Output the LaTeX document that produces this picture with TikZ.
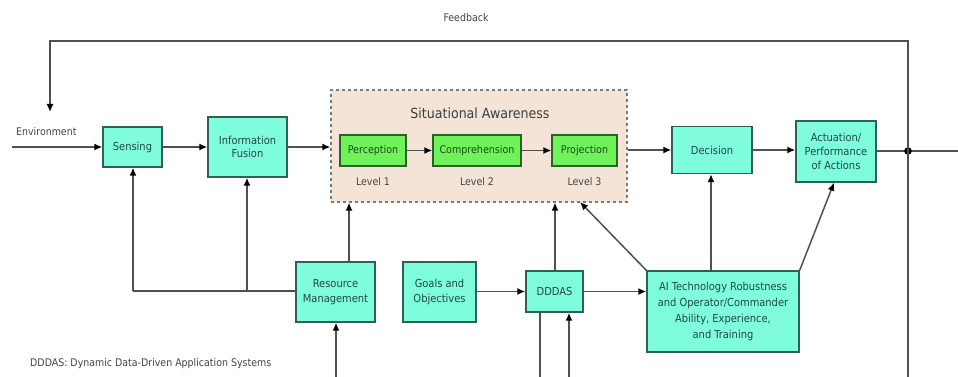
\documentclass[tikz,border=0pt]{standalone}
\usepackage{fontspec}
\setmainfont{DejaVu Sans Condensed}
\usetikzlibrary{arrows.meta,positioning}
\definecolor{cyanfill}{HTML}{7EFCDC}
\definecolor{cyanedge}{HTML}{2F5F55}
\definecolor{cyantext}{HTML}{1F4A40}
\definecolor{greenfill}{HTML}{6FF25A}
\definecolor{greenedge}{HTML}{2E5E2A}
\definecolor{greentext}{HTML}{1E4A1A}
\definecolor{safill}{HTML}{F4E4D8}
\definecolor{saedge}{HTML}{7A7A7A}
\definecolor{linecol}{HTML}{505050}
\definecolor{labcol}{HTML}{444444}
\tikzset{
  cbox/.style={draw=cyanedge, line width=1.4pt, fill=cyanfill, text=cyantext,
    font=\fontsize{11}{13}\selectfont, align=center, inner sep=0pt},
  gbox/.style={draw=greenedge, line width=1.4pt, fill=greenfill, text=greentext,
    font=\fontsize{10.6}{13}\selectfont, align=center, inner sep=0pt,
    minimum height=31pt},
  lab/.style={text=labcol, font=\fontsize{10.5}{12}\selectfont, inner sep=0pt},
  conn/.style={draw=linecol, line width=1.5pt},
  arr/.style={conn, -{Latex[length=8pt,width=7pt,color=black]}},
}
\begin{document}
\begin{tikzpicture}[x=1pt,y=-1pt]
\useasboundingbox (0,0) rectangle (958,377);
% situational awareness container
\node[draw=saedge, dashed, line width=1.2pt, fill=safill, minimum width=296pt, minimum height=112pt, inner sep=0pt] (sa) at (479,146) {};
\node[text=labcol!90!black, font=\fontsize{14}{16}\selectfont, inner sep=0pt] (satitle) at (480,113) {Situational Awareness};
% boxes
\node[cbox, minimum width=59pt, minimum height=40pt] (sensing) at (132.5,147) {Sensing};
\node[cbox, minimum width=79pt, minimum height=60pt] (fusion) at (247.5,147) {Information\\Fusion};
\node[gbox, minimum width=66pt] (perc) at (373,150.5) {Perception};
\node[gbox, minimum width=88pt] (comp) at (477,150.5) {Comprehension};
\node[gbox, minimum width=65pt] (proj) at (584.5,150.5) {Projection};
\node[lab] (l1) at (373,182) {Level 1};
\node[lab] (l2) at (477,182) {Level 2};
\node[lab] (l3) at (584.5,182) {Level 3};
\node[cbox, minimum width=80pt, minimum height=47pt] (decision) at (712,150) {Decision};
\node[cbox, minimum width=80pt, minimum height=61pt, font=\fontsize{11}{14}\selectfont] (act) at (836,151.5) {Actuation/\\Performance\\of Actions};
\node[cbox, minimum width=79pt, minimum height=60pt, font=\fontsize{11}{14.5}\selectfont] (res) at (335.5,292) {Resource\\Management};
\node[cbox, minimum width=73pt, minimum height=60pt, font=\fontsize{11}{14.5}\selectfont] (goals) at (439.5,292) {Goals and\\Objectives};
\node[cbox, minimum width=57pt, minimum height=41pt] (dddas) at (554.5,291.5) {DDDAS};
\node[cbox, minimum width=152pt, minimum height=81pt, font=\fontsize{11}{16}\selectfont] (ai) at (723,311.5) {AI Technology Robustness\\and Operator/Commander\\Ability, Experience,\\and Training};
% labels
\node[lab] (feedback) at (466,18) {Feedback};
\node[lab, anchor=west] (env) at (16,132) {Environment};
\node[lab, anchor=west] (note) at (30,364) {DDDAS: Dynamic Data-Driven Application Systems};
% coordinates
\coordinate (envstart) at (12,147);
\coordinate (dot) at (908,151);
\coordinate (rightend) at (958,151);
\coordinate (fbtopright) at (908,41);
\coordinate (fbtopleft) at (50,41);
\coordinate (fbend) at (50,112);
\coordinate (dotbottom) at (908,377);
\coordinate (senscorner) at (133,291);
\coordinate (fusjoin) at (247,291);
\coordinate (resbot) at (336,377);
\coordinate (ddbotA) at (540,377);
\coordinate (ddbotB) at (569,377);
\coordinate (saAI) at (580,202);
% main flow
\draw[arr] (envstart) -- (sensing.west);
\draw[arr] (sensing.east) -- (fusion.west);
\draw[arr] (fusion.east) -- (fusion.east -| sa.west);
\draw[arr] (perc.east) -- (comp.west);
\draw[arr] (comp.east) -- (proj.west);
\draw[arr] (sa.east |- decision.west) -- (decision.west);
\draw[arr] (decision.east) -- (decision.east -| act.west);
\draw[conn] (act.east |- dot) -- (rightend);
\fill[black] (dot) circle (3.8pt);
% feedback
\draw[arr] (dotbottom) -- (fbtopright) -- (fbtopleft) -- (fbend);
% lower connections
\draw[conn] (res.west |- senscorner) -- (senscorner);
\draw[arr] (senscorner) -- (sensing.south -| senscorner);
\draw[arr] (fusjoin) -- (fusion.south -| fusjoin);
\draw[arr] (res.north -| 349,0) -- (sa.south -| 349,0);
\draw[arr] (resbot) -- (res.south -| resbot);
\draw[arr] (goals.east |- dddas.west) -- (dddas.west);
\draw[arr] (dddas.north -| 555,0) -- (sa.south -| 555,0);
\draw[arr] (dddas.east) -- (ai.west |- dddas.east);
\draw[conn] (ddbotA) -- (dddas.south -| ddbotA);
\draw[arr] (ddbotB) -- (dddas.south -| ddbotB);
\draw[arr] (ai.north west) -- (saAI);
\draw[arr] (ai.north -| 711,0) -- (decision.south -| 711,0);
\draw[arr] (ai.north east) -- (act.south -| 834,0);
\end{tikzpicture}
\end{document}
